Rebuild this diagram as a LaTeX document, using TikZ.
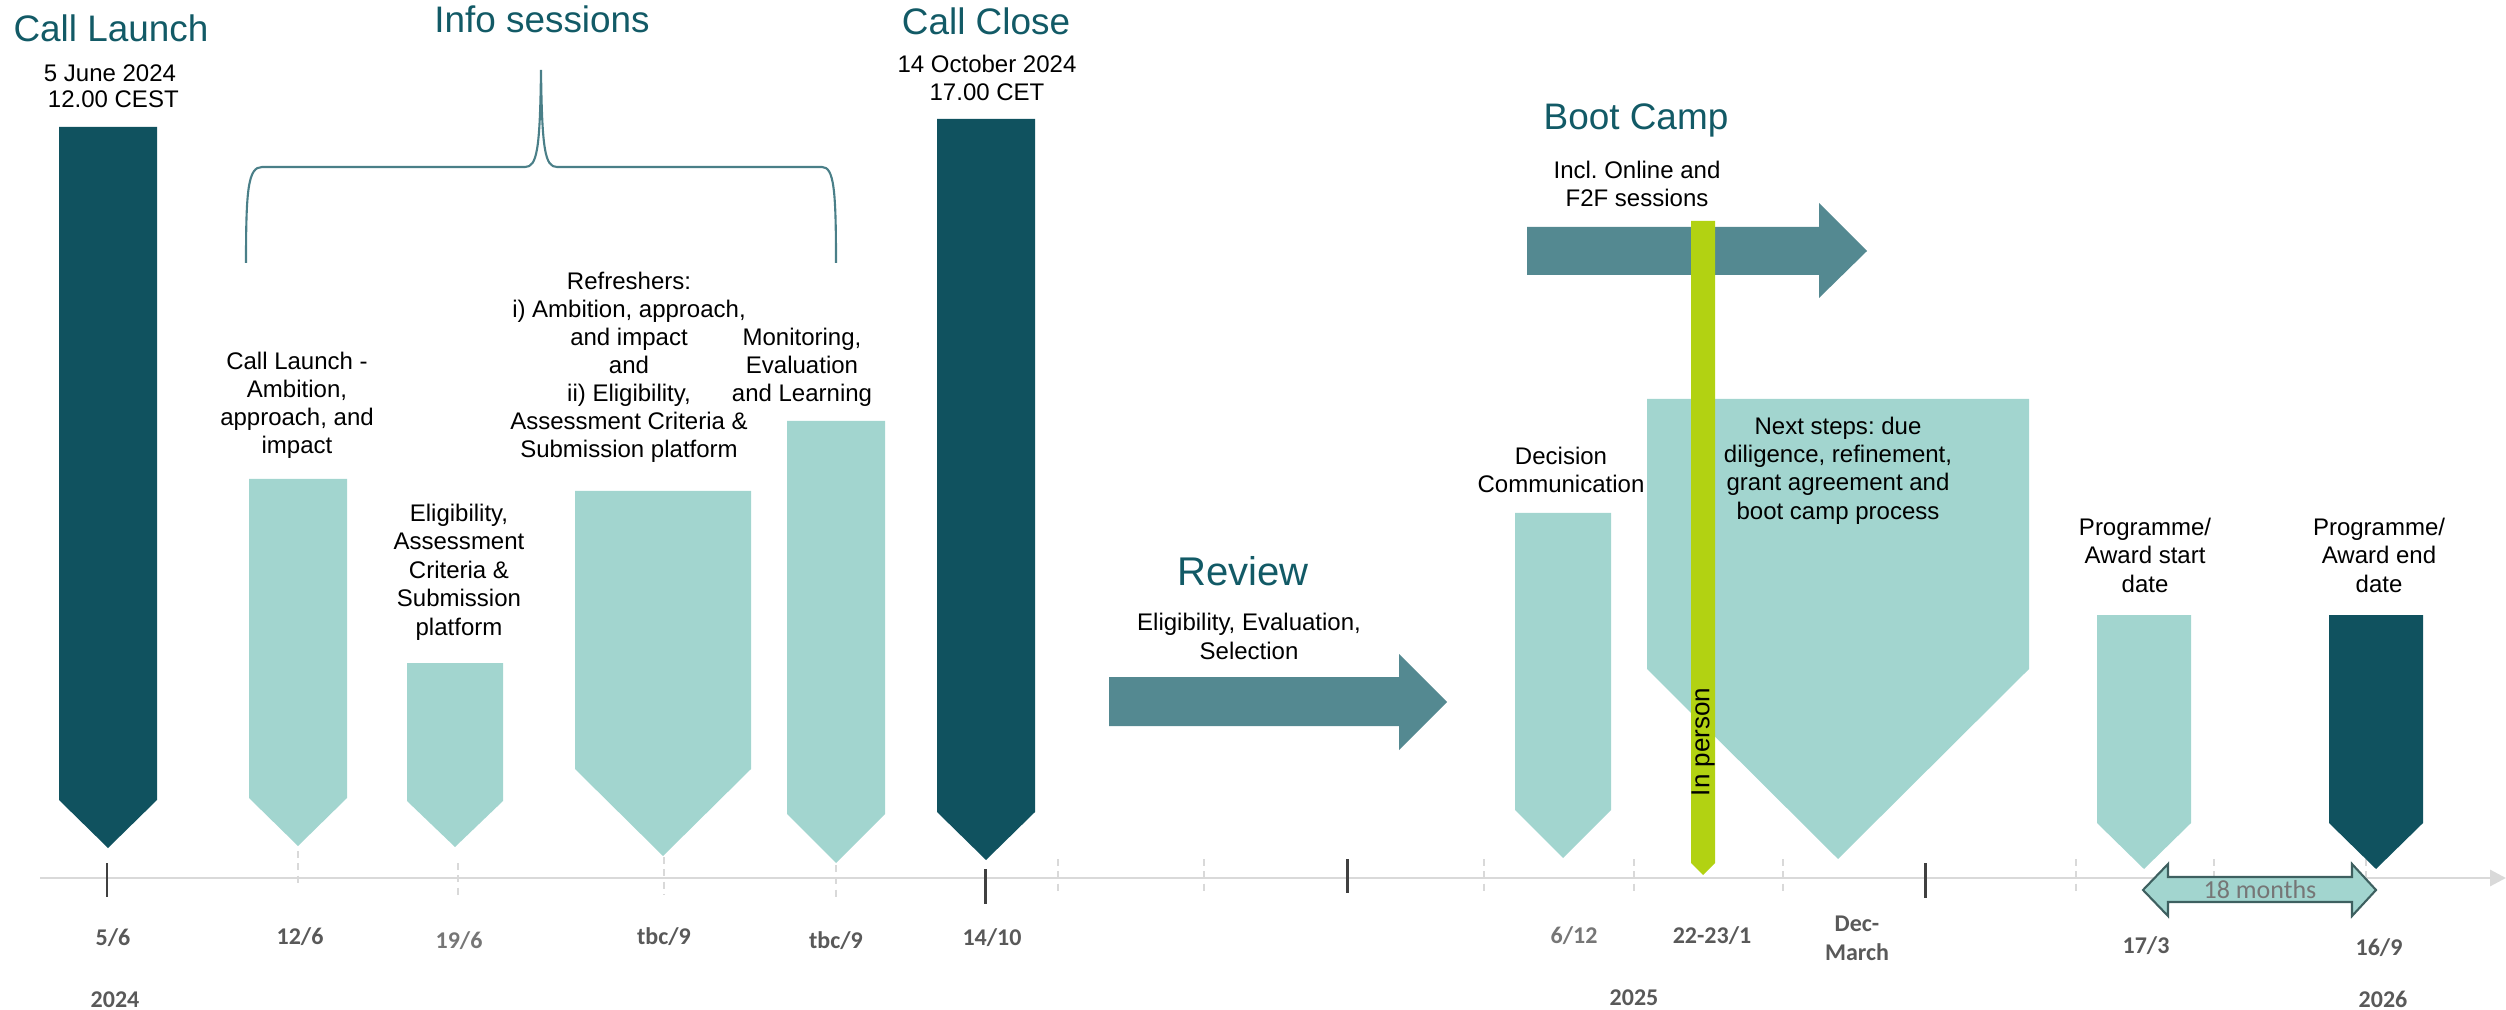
\documentclass[tikz,border=0pt]{standalone}
\usepackage{fontspec}
\setmainfont{Liberation Sans}
\newfontfamily\calibri{Carlito}
\usetikzlibrary{arrows.meta}
\frenchspacing

\definecolor{darkteal}{RGB}{16,82,95}
\definecolor{lightteal}{RGB}{162,213,207}
\definecolor{midteal}{RGB}{84,137,145}
\definecolor{titleteal}{RGB}{18,90,102}
\definecolor{limegreen}{RGB}{178,210,18}
\definecolor{axisgray}{RGB}{217,217,217}
\definecolor{tickdark}{RGB}{64,64,64}
\definecolor{labelgray}{RGB}{89,89,89}
\definecolor{labellight}{RGB}{118,118,118}
\definecolor{bracecol}{RGB}{74,127,136}
\definecolor{arrowedge}{RGB}{62,96,96}

\newcommand{\pentbar}[6]{\fill[#1] (#2,#4) -- (#3,#4) -- (#3,#5) -- ({(#2+#3)/2},#6) -- (#2,#5) -- cycle;}

\begin{document}
\begin{tikzpicture}[x=0.1mm,y=-0.1mm,
  titletext/.style={font=\fontsize{10.5}{12}\selectfont, text=titleteal, inner sep=0, anchor=base},
  body/.style={font=\fontsize{6.83}{7.97}\selectfont, align=center, inner sep=0, anchor=base},
  datelbl/.style={font=\calibri\bfseries\fontsize{6.83}{8.2}\selectfont, text=labelgray, inner sep=0, anchor=base, align=center},
  soliddash/.style={draw=tickdark, line width=0.85pt},
  lightdash/.style={draw=axisgray, line width=0.5pt, dash pattern=on 2pt off 1.5pt},
  bigarrow/.style={fill=midteal}
]
\useasboundingbox (0,0) rectangle (2506,1010);

% axis
\draw[axisgray, line width=0.85pt, -{Triangle[length=4.5pt,width=4.5pt]}] (40,878) -- (2506,878);
% ticks
\foreach \x/\a/\b in {107/863/897, 985/869/904, 1347/859/893, 1925/863/898}
  \draw[soliddash] (\x,\a) -- (\x,\b);
\foreach \x/\a/\b in {298/851/886, 458/863/897, 664/857/894, 836/865/900, 1058/859/894, 1204/859/894, 1484/859/894, 1634/859/894, 1783/859/893, 2076/859/893, 2214/859/893, 2366/859/893}
  \draw[lightdash] (\x,\a) -- (\x,\b);

% bars
\pentbar{darkteal}{59}{157}{127}{800}{848}
\pentbar{lightteal}{249}{347}{479}{798}{846}
\pentbar{lightteal}{407}{503}{663}{801}{847}
\pentbar{lightteal}{575}{751}{491}{769}{856}
\pentbar{lightteal}{787}{885}{421}{814}{863}
\pentbar{darkteal}{937}{1035}{119}{812}{860}
\pentbar{lightteal}{1515}{1611}{513}{810}{858}
\pentbar{lightteal}{1647}{2029}{399}{669}{859}
\pentbar{lightteal}{2097}{2191}{615}{823}{869}
\pentbar{darkteal}{2329}{2423}{615}{823}{869}

% review arrow
\fill[bigarrow] (1109,677) -- (1399,677) -- (1399,654) -- (1447,702) -- (1399,750) -- (1399,726) -- (1109,726) -- cycle;
% boot camp arrow
\fill[bigarrow] (1527,227) -- (1819,227) -- (1819,203) -- (1867,251) -- (1819,298) -- (1819,275) -- (1527,275) -- cycle;
% green in-person bar
\fill[limegreen] (1691,221) -- (1715,221) -- (1715,863) -- (1703,875) -- (1691,863) -- cycle;
\node[font=\fontsize{7.4}{8}\selectfont, rotate=90, inner sep=0] (inperson) at (1703,742) {In person};

% brace
\draw[bracecol, line width=0.6pt] (246,263) .. controls (246,190) and (248,167) .. (262,167) -- (525,167)
  .. controls (537,167) and (540,150) .. (541,70) .. controls (542,150) and (545,167) .. (557,167)
  -- (822,167) .. controls (834,167) and (836,190) .. (836,263);

% 18 months double arrow
\filldraw[fill=lightteal, draw=arrowedge, line width=0.6pt] (2143,890) -- (2168,864) -- (2168,877) -- (2352,877) -- (2352,864) -- (2376,890) -- (2352,916) -- (2352,902) -- (2168,902) -- (2168,916) -- cycle;
\node[font=\calibri\fontsize{7.4}{8}\selectfont, text=labellight, inner sep=0] (months) at (2260,890) {18 months};

% titles
\node[titletext] (tlaunch) at (111,42) {Call Launch};
\node[titletext] (tinfo) at (542,33) {Info sessions};
\node[titletext] (tclose) at (986,35) {Call Close};
\node[titletext] (tboot) at (1636,130) {Boot Camp};
\node[titletext, font=\fontsize{11.4}{13}\selectfont] (treview) at (1243,585) {Review};

% sub texts (anchor base = last line baseline)
\node[body, font=\fontsize{6.83}{7.4}\selectfont] (dlaunch) at (110,108) {5 June 2024\\\ 12.00 CEST};
\node[body] (dclose) at (987,101) {14 October 2024\\17.00 CET};
\node[body] (dboot) at (1637,207) {Incl. Online and\\F2F sessions};
\node[body] (dreview) at (1249,659) {Eligibility, Evaluation,\\Selection};

\node[body] (s1) at (297,454) {Call Launch -\\Ambition,\\approach, and\\impact};
\node[body, font=\fontsize{6.83}{8.1}\selectfont] (s2) at (459,635) {Eligibility,\\Assessment\\Criteria \&\\Submission\\platform};
\node[body] (s3) at (629,458) {Refreshers:\\i) Ambition, approach,\\and impact\\and\\ii) Eligibility,\\Assessment Criteria \&\\Submission platform};
\node[body] (s4) at (802,402) {Monitoring,\\Evaluation\\and Learning};
\node[body] (decision) at (1561,493) {Decision\\Communication};
\node[body] (next) at (1838,519) {Next steps: due\\diligence, refinement,\\grant agreement and\\boot camp process};
\node[body, font=\fontsize{6.83}{8.1}\selectfont] (start) at (2145,592) {Programme/\\Award start\\date};
\node[body, font=\fontsize{6.83}{8.1}\selectfont] (end) at (2379,592) {Programme/\\Award end\\date};

% date labels
\node[datelbl] (l56) at (113,945) {5/6};
\node[datelbl] (l126) at (300,944) {12/6};
\node[datelbl, text=labellight] (l196) at (459,948) {19/6};
\node[datelbl] (ltbc1) at (664,944) {tbc/9};
\node[datelbl] (ltbc2) at (836,948) {tbc/9};
\node[datelbl] (l1410) at (992,945) {14/10};
\node[datelbl, text=labellight] (l612) at (1574,943) {6/12};
\node[datelbl] (l2223) at (1712,943) {22-23/1};
\node[datelbl, font=\calibri\bfseries\fontsize{6.83}{8.1}\selectfont] (ldec) at (1857,960) {Dec-\\March};
\node[datelbl] (l173) at (2146,953) {17/3};
\node[datelbl] (l169) at (2379,955) {16/9};
\node[datelbl] (y2024) at (115,1007) {2024};
\node[datelbl] (y2025) at (1634,1005) {2025};
\node[datelbl] (y2026) at (2383,1007) {2026};
\end{tikzpicture}
\end{document}
